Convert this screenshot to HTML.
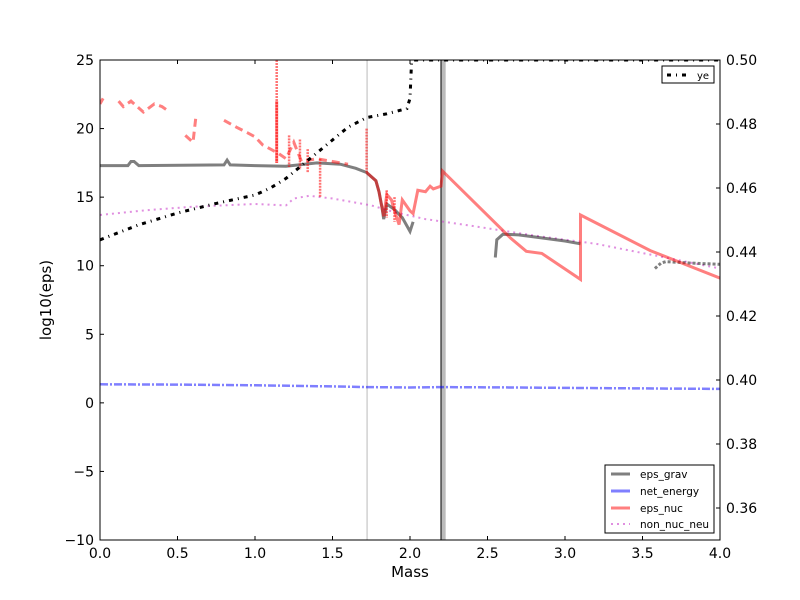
<!DOCTYPE html>
<html><head><meta charset="utf-8"><style>
body{margin:0;background:#fff}
svg{display:block;font-family:"DejaVu Sans","Liberation Sans",sans-serif}
</style></head><body>
<svg id="chart" width="800" height="600">
<rect width="800" height="600" fill="#fff"/>
<defs><clipPath id="clip"><rect x="100" y="60" width="620" height="480"/></clipPath></defs>
<g id="plot" clip-path="url(#clip)"></g>
<g id="axes"></g>
</svg>
<script>
const xTicks=[0,0.5,1,1.5,2,2.5,3,3.5,4];
const xTickLabels=["0.0","0.5","1.0","1.5","2.0","2.5","3.0","3.5","4.0"];
const yTicks=[-10,-5,0,5,10,15,20,25];
const yTickLabels=["\u221210","\u22125","0","5","10","15","20","25"];
const y2Ticks=[0.36,0.38,0.40,0.42,0.44,0.46,0.48,0.50];
const y2TickLabels=["0.36","0.38","0.40","0.42","0.44","0.46","0.48","0.50"];
const gravMass=[0,0.18,0.2,0.22,0.25,0.8,0.82,0.84,1.0,1.2,1.4,1.55,1.65,1.72,1.78,1.8,1.82,1.83,1.85,1.9,1.95,2.0,2.02];
const gravVal=[17.3,17.3,17.6,17.6,17.3,17.35,17.7,17.35,17.3,17.25,17.5,17.4,17.1,16.8,16.2,15.4,14.2,13.4,14.5,14.1,13.5,12.5,13.2];
const grav2Mass=[2.55,2.56,2.6,2.7,2.8,3.0,3.1];
const grav2Val=[10.6,11.9,12.3,12.25,12.1,11.8,11.6];
const grav3Mass=[3.58,3.62,3.65,3.8,4.0];
const grav3Val=[9.8,10.2,10.3,10.2,10.1];
const nucEarlyMass=[0,0.02,null,0.12,0.15,0.2,0.28,0.35,0.4,0.45,null,0.55,0.6,0.62,null,0.8,0.88,0.95,1.0,1.05,1.1,1.15,1.2,1.25,1.3,1.4,1.5,1.6];
const nucEarlyVal=[21.8,22.2,null,22.0,21.6,22.0,21.2,21.8,21.6,21.2,null,19.5,19.0,21.0,null,20.6,20.1,19.7,19.4,18.8,18.5,18.2,17.8,19.0,17.6,17.8,17.6,17.4];
const nucMass=[1.72,1.78,1.8,1.82,1.83,1.85,1.88,1.9,1.93,1.95,2.0,2.02,2.05,2.1,2.13,2.15,2.2,2.21,2.65,2.75,2.85,3.1,3.1,3.55,4.0];
const nucVal=[16.8,16.2,15.4,14.2,13.6,15.2,14.8,14.0,13.0,14.8,14.0,13.8,15.5,15.4,15.8,15.6,15.8,16.9,12.0,11.05,10.9,9.0,13.7,11.1,9.1];
const spikeMass=[1.14,1.22,1.29,1.34,1.42,1.72,1.85,1.9];
const spikeTop=[25,19.5,19.2,18.5,17.8,20,15.5,15];
const spikeBot=[17.5,17.2,17.0,16.8,15.0,16.8,13.5,13.2];
const netMass=[0,0.5,1.0,1.5,1.72,2.0,2.2,2.7,3.1,4.0];
const netVal=[1.35,1.33,1.28,1.2,1.15,1.12,1.15,1.12,1.08,1.02];
const neuMass=[0,0.3,0.6,1.0,1.2,1.25,1.35,1.5,1.75,1.9,2.1,2.4,2.8,3.2,3.6,4.0];
const neuVal=[13.7,14.05,14.3,14.5,14.4,14.9,15.1,14.9,14.4,13.9,13.4,12.9,12.2,11.6,10.7,9.8];
const yeMass=[0,0.25,0.5,0.75,1.0,1.1,1.2,1.35,1.5,1.6,1.72,1.85,1.98,2.0,2.01,2.02,4.0];
const yeVal=[0.4438,0.4485,0.4522,0.4552,0.4578,0.4600,0.4630,0.4690,0.4750,0.4790,0.4820,0.4832,0.4848,0.4880,0.4990,0.5000,0.5000];

const X0=100,X1=720,Y0=540,Y1=60;
const sx=m=>X0+(m-0)/4*(X1-X0);
const sy=v=>Y0-(v+10)/35*(Y0-Y1);
const sy2=v=>Y0-(v-0.35)/0.15*(Y0-Y1);
const NS="http://www.w3.org/2000/svg";
const plot=document.getElementById('plot'),axes=document.getElementById('axes');
function mk(tag,attrs,parent){const e=document.createElementNS(NS,tag);for(const k in attrs)e.setAttribute(k,attrs[k]);parent.appendChild(e);return e;}
function pathD(ms,vs,f){let d="",pen=false;for(let i=0;i<ms.length;i++){if(ms[i]===null){pen=false;continue;}d+=(pen?"L":"M")+sx(ms[i]).toFixed(1)+","+f(vs[i]).toFixed(1);pen=true;}return d;}
function line(ms,vs,f,style,name){const p=mk('path',Object.assign({d:pathD(ms,vs,f),fill:'none'},style),plot);

}
let v1=mk('line',{x1:sx(1.723),x2:sx(1.723),y1:Y1,y2:Y0,stroke:'#bbb','stroke-width':1},plot);


let v2=mk('rect',{x:sx(2.2),y:Y1,width:sx(2.23)-sx(2.2),height:Y0-Y1,fill:'#bbb'},plot);


let v3=mk('line',{x1:sx(2.2),x2:sx(2.2),y1:Y1,y2:Y0,stroke:'#000','stroke-width':1},plot);


line(neuMass,neuVal,sy,{stroke:'#cc44cc','stroke-opacity':0.6,'stroke-width':2,'stroke-dasharray':'2,4'},'non-nuc-neu-line');
line(netMass,netVal,sy,{stroke:'blue','stroke-opacity':0.5,'stroke-width':2.5,'stroke-dasharray':'8,2,2,2'},'net-energy-line');
line(gravMass,gravVal,sy,{stroke:'#000','stroke-opacity':0.5,'stroke-width':3},'eps-grav-line');
line(grav2Mass,grav2Val,sy,{stroke:'#000','stroke-opacity':0.5,'stroke-width':3},'eps-grav-line-2');
line(grav3Mass,grav3Val,sy,{stroke:'#000','stroke-opacity':0.5,'stroke-width':3,'stroke-dasharray':'3,2'},'eps-grav-line-3');
line(nucEarlyMass,nucEarlyVal,sy,{stroke:'red','stroke-opacity':0.5,'stroke-width':3,'stroke-dasharray':'8,5'},'eps-nuc-early-line');
line(nucMass,nucVal,sy,{stroke:'red','stroke-opacity':0.5,'stroke-width':3},'eps-nuc-line');
spikeMass.forEach((m,i)=>{
const sp=mk('line',{x1:sx(m),x2:sx(m),y1:sy(spikeTop[i]),y2:sy(spikeBot[i]),stroke:'red','stroke-opacity':0.55,'stroke-width':2.5,'stroke-dasharray':'2,1'},plot);

});
const sp0=mk('line',{x1:sx(spikeMass[0]),x2:sx(spikeMass[0]),y1:sy(22),y2:sy(17.5),stroke:'red','stroke-opacity':0.5,'stroke-width':3},plot);


line(yeMass,yeVal,sy2,{stroke:'#000','stroke-width':3,'stroke-dasharray':'4,5,1,5'},'ye-line');
let fr=mk('rect',{x:X0,y:Y1,width:X1-X0,height:Y0-Y1,fill:'none',stroke:'#000','stroke-width':1},axes);


xTicks.forEach((t,i)=>{const x=sx(t);
mk('line',{x1:x,x2:x,y1:Y0,y2:Y0-4,stroke:'#000'},axes);mk('line',{x1:x,x2:x,y1:Y1,y2:Y1+4,stroke:'#000'},axes);
const tx=mk('text',{x:x,y:Y0+18,'text-anchor':'middle','font-size':14},axes);tx.textContent=xTickLabels[i];

});
yTicks.forEach((t,i)=>{const y=sy(t);
mk('line',{x1:X0,x2:X0+4,y1:y,y2:y,stroke:'#000'},axes);
const tx=mk('text',{x:X0-6,y:y+5,'text-anchor':'end','font-size':14},axes);tx.textContent=yTickLabels[i];

});
y2Ticks.forEach((t,i)=>{const y=sy2(t);
mk('line',{x1:X1,x2:X1-4,y1:y,y2:y,stroke:'#000'},axes);
const tx=mk('text',{x:X1+6,y:y+5,'text-anchor':'start','font-size':14},axes);tx.textContent=y2TickLabels[i];

});
</script>
<svg width="800" height="600" style="position:absolute;left:0;top:0;font-family:'DejaVu Sans','Liberation Sans',sans-serif">
<text x="410" y="577" text-anchor="middle" font-size="15">Mass</text>
<text transform="translate(51,300) rotate(-90)" text-anchor="middle" font-size="15">log10(eps)</text>
<g>
<rect x="662" y="66" width="52" height="17" fill="#fff" stroke="#000"/>
<line x1="667" x2="687" y1="75" y2="75" stroke="#000" stroke-width="3" stroke-dasharray="4,5,1,5"/>
<text x="697" y="79" font-size="10">ye</text>
</g>
<g>
<rect x="605" y="465" width="109" height="68" fill="#fff" stroke="#000"/>
<line x1="611" x2="630" y1="474" y2="474" stroke="#000" stroke-opacity="0.5" stroke-width="3"/>
<text x="640" y="478" font-size="10.5">eps_grav</text>
<line x1="611" x2="630" y1="491" y2="491" stroke="blue" stroke-opacity="0.5" stroke-width="3"/>
<text x="640" y="495" font-size="10.5">net_energy</text>
<line x1="611" x2="630" y1="508" y2="508" stroke="red" stroke-opacity="0.5" stroke-width="3"/>
<text x="640" y="512" font-size="10.5">eps_nuc</text>
<line x1="611" x2="630" y1="524" y2="524" stroke="#cc44cc" stroke-opacity="0.6" stroke-width="2" stroke-dasharray="2,4"/>
<text x="640" y="528" font-size="10.5">non_nuc_neu</text>
</g>
</svg>
</body></html>
